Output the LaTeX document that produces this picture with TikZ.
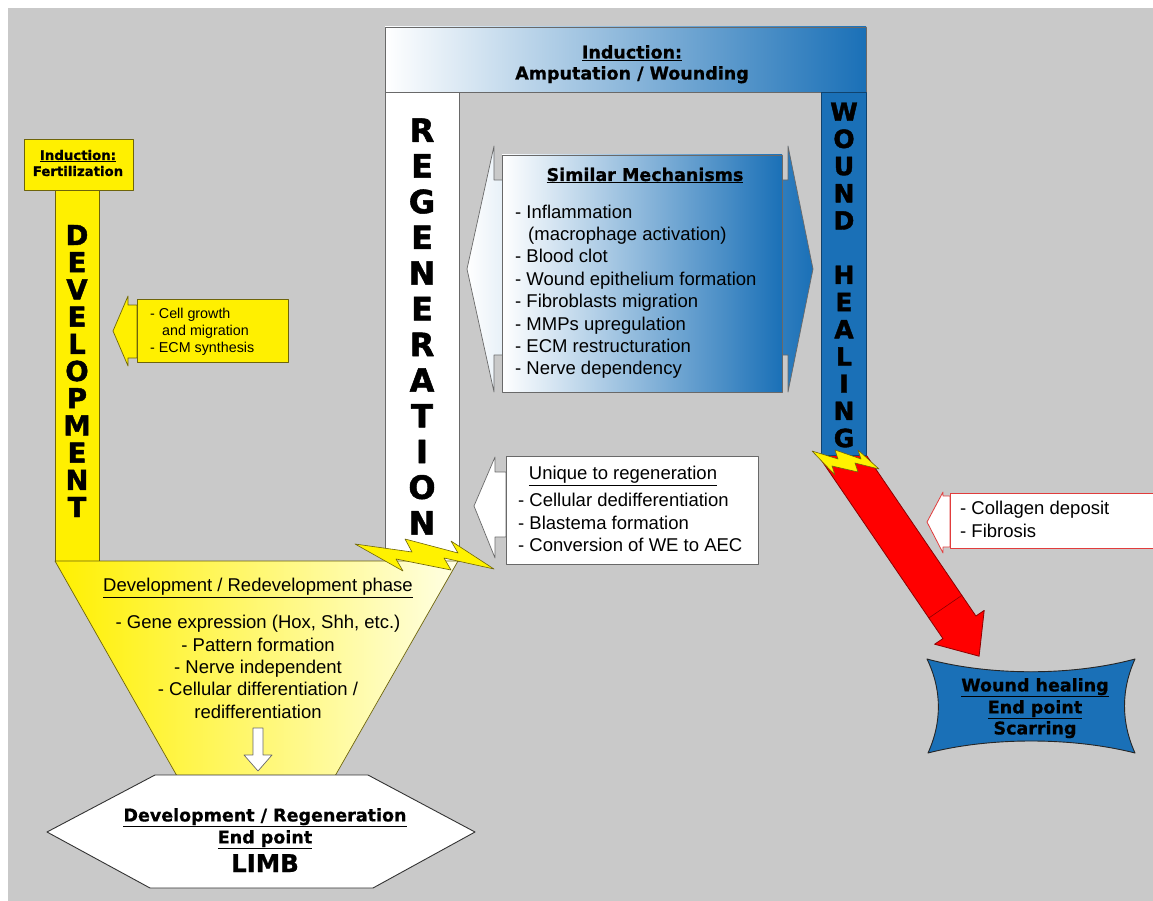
\documentclass[tikz,border=0pt]{standalone}
\usepackage{fontspec}
\setmainfont{Liberation Sans}
\newfontfamily\dvs{DejaVu Sans}
\newfontfamily\heavy{DejaVu Sans Bold}[FakeBold=1.6]
\newfontfamily\hdr{DejaVu Sans Bold}[FakeBold=0.8]
\newcommand{\myfs}[2]{\fontsize{#1}{#2}\selectfont}
\definecolor{bgc}{RGB}{201,201,201}
\definecolor{hblue}{RGB}{26,112,183}
\definecolor{hyellow}{RGB}{255,240,0}
\definecolor{lyellow}{RGB}{255,255,228}
\definecolor{olivec}{RGB}{110,100,10}
\definecolor{dgray}{RGB}{105,105,105}
\definecolor{hred}{RGB}{255,0,0}
\definecolor{dred}{RGB}{140,0,0}
\definecolor{pred}{RGB}{225,60,60}
\begin{document}
\begin{tikzpicture}[x=1pt,y=-1pt,line join=round,
  txt/.style={inner sep=0pt,font=\myfs{18.5}{22.4}},
  bld/.style={inner sep=0pt,font=\hdr\myfs{17.5}{21}},
  vert/.style={inner sep=0pt,align=center},
  ybox/.style={draw=olivec,fill=hyellow,line width=0.7pt},
  gbox/.style={draw=dgray,fill=white,line width=0.7pt},
  bolt/.style={draw=olivec,fill=yellow,line width=0.6pt}]
\useasboundingbox (0,0) rectangle (1153,901);
\fill[white] (0,0) rectangle (1153,901);
\fill[bgc] (8,8) rectangle (1153,901);

% red arrow
\draw[dred,fill=hred,line width=0.8pt] (821.9,461.0) -- (942.9,638.6) -- (934.6,644.2) -- (979.1,656.2) -- (984.2,610.4) -- (975.9,616.0) -- (854.9,438.4) -- cycle;
\draw[dred,line width=0.6pt] (928.8,618.0) -- (961.8,595.4);

% top bar and columns
\draw[dgray,line width=0.7pt,left color=white,right color=hblue] (385,27) rectangle (866,92);
\draw[gbox] (385,92) rectangle (459,561);
\draw[draw=hblue!60!black,fill=hblue,line width=0.7pt] (821,92) rectangle (866,455);

% development column
\draw[ybox] (55,190) rectangle (99,561);
\draw[ybox] (24,139) rectangle (133,190);

% funnel
\draw[olivec,line width=0.7pt,left color=hyellow,right color=lyellow] (55,561) -- (458,561) -- (335,776) -- (177,776) -- cycle;
\draw[dgray,fill=white,line width=0.7pt] (253,728) -- (263,728) -- (263,755) -- (272,755) -- (258,771) -- (244,755) -- (253,755) -- cycle;

% hexagon
\draw[black!80,fill=white,line width=0.9pt] (47,832) -- (155,775) -- (368,775) -- (475,832) -- (373,888) -- (150,888) -- cycle;

% double arrow and similar box
\draw[dgray,line width=0.7pt,left color=white,right color=hblue] (467,269) -- (494,146) -- (494,180) -- (788,180) -- (788,146) -- (813,269) -- (788,392) -- (788,355) -- (494,355) -- (494,392) -- cycle;
\draw[dgray,line width=0.7pt,left color=white,right color=hblue] (502,155) rectangle (782,392);

% unique arrow and box
\draw[gbox] (474,506) -- (495,457) -- (495,472) -- (506,472) -- (506,537) -- (495,537) -- (495,558) -- cycle;
\draw[gbox] (506,456) rectangle (758,564);

% cell growth arrow and box
\draw[ybox] (113,331) -- (128,296) -- (128,305) -- (137,305) -- (137,358) -- (128,358) -- (128,366) -- cycle;
\draw[ybox] (137,299) rectangle (288,362);

% collagen arrow and box
\draw[pred,fill=white,line width=0.8pt] (927,522) -- (943,492) -- (943,496) -- (950,496) -- (950,547) -- (943,547) -- (943,553) -- cycle;
\draw[pred,fill=white,line width=0.8pt] (950,493) rectangle (1158,548);

% wound healing end point
\draw[black!85,fill=hblue,line width=0.9pt] (927,659) .. controls (990,676) and (1072,676) .. (1135,659) .. controls (1121,690) and (1121,722) .. (1135,753) .. controls (1072,737) and (990,737) .. (928,753) .. controls (942,722) and (942,690) .. (927,659) -- cycle;

% lightning bolts
\draw[bolt] (355,544) -- (412,552) -- (405,539) -- (458,553) -- (451,541) -- (494,569) -- (444,558) -- (451,570) -- (396,559) -- (403,571) -- cycle;
\draw[bolt] (812,451) -- (838,459) -- (835,450) -- (861,459) -- (858,450) -- (879,469) -- (855,463) -- (858,472) -- (832,466) -- (835,475) -- cycle;

% texts
\node[bld,anchor=base] (indtitle) at (632,58.5) {\underline{Induction:}};
\node[bld,anchor=base] (indsub) at (632,79.5) {Amputation / Wounding};
\node[inner sep=0pt,font=\hdr\myfs{13.3}{16},anchor=base] (fert1) at (78,160) {\underline{Induction:}};
\node[inner sep=0pt,font=\hdr\myfs{13.3}{16},anchor=base] (fert2) at (78,176) {Fertilization};

\node[vert,font=\heavy\myfs{27.5}{27.2}] (devword) at (77,371) {D\\E\\V\\E\\L\\O\\P\\M\\E\\N\\T};
\node[vert,font=\heavy\myfs{32}{35.7}] (regword) at (422,326.5) {R\\E\\G\\E\\N\\E\\R\\A\\T\\I\\O\\N};
\node[vert,font=\heavy\myfs{25}{27.2}] (woundword) at (844,275) {W\\O\\U\\N\\D\\[27.2pt]H\\E\\A\\L\\I\\N\\G};

\node[bld,anchor=base] (simtitle) at (645,181) {\underline{Similar Mechanisms}};
\node[txt,align=left,anchor=north west] (simlist) at (515,204.5) {- Inflammation\\\hspace*{13pt}(macrophage activation)\\- Blood clot\\- Wound epithelium formation\\- Fibroblasts migration\\- MMPs upregulation\\- ECM restructuration\\- Nerve dependency};

\node[txt,anchor=base] (unititle) at (623,479.6) {\underline{Unique to regeneration}};
\node[txt,align=left,anchor=north west] (unilist) at (518,493) {- Cellular dedifferentiation\\- Blastema formation\\- Conversion of WE to AEC};

\node[txt,align=left,anchor=north west] (collist) at (960,501) {- Collagen deposit\\- Fibrosis};

\node[inner sep=0pt,font=\myfs{14.3}{17.3},align=left,anchor=north west] (celllist) at (150,307.6) {- Cell growth\\\hspace*{12pt}and migration\\- ECM synthesis};

\node[txt,anchor=base] (funtitle) at (258,591.6) {\underline{Development / Redevelopment phase}};
\node[txt,align=center,anchor=north] (funlist) at (258,615) {- Gene expression (Hox, Shh, etc.)\\- Pattern formation\\- Nerve independent\\- Cellular differentiation /\\redifferentiation};

\node[bld,anchor=base] (hex1) at (265,821.4) {\underline{Development / Regeneration}};
\node[bld,anchor=base] (hex2) at (265,843.4) {\underline{End point}};
\node[inner sep=0pt,font=\hdr\myfs{24.5}{28},anchor=base] (hex3) at (265,872) {LIMB};

\node[bld,anchor=base] (we1) at (1035,691.4) {\underline{Wound healing}};
\node[bld,anchor=base] (we2) at (1035,713.4) {\underline{End point}};
\node[bld,anchor=base] (we3) at (1035,734.4) {Scarring};
\end{tikzpicture}
\end{document}
